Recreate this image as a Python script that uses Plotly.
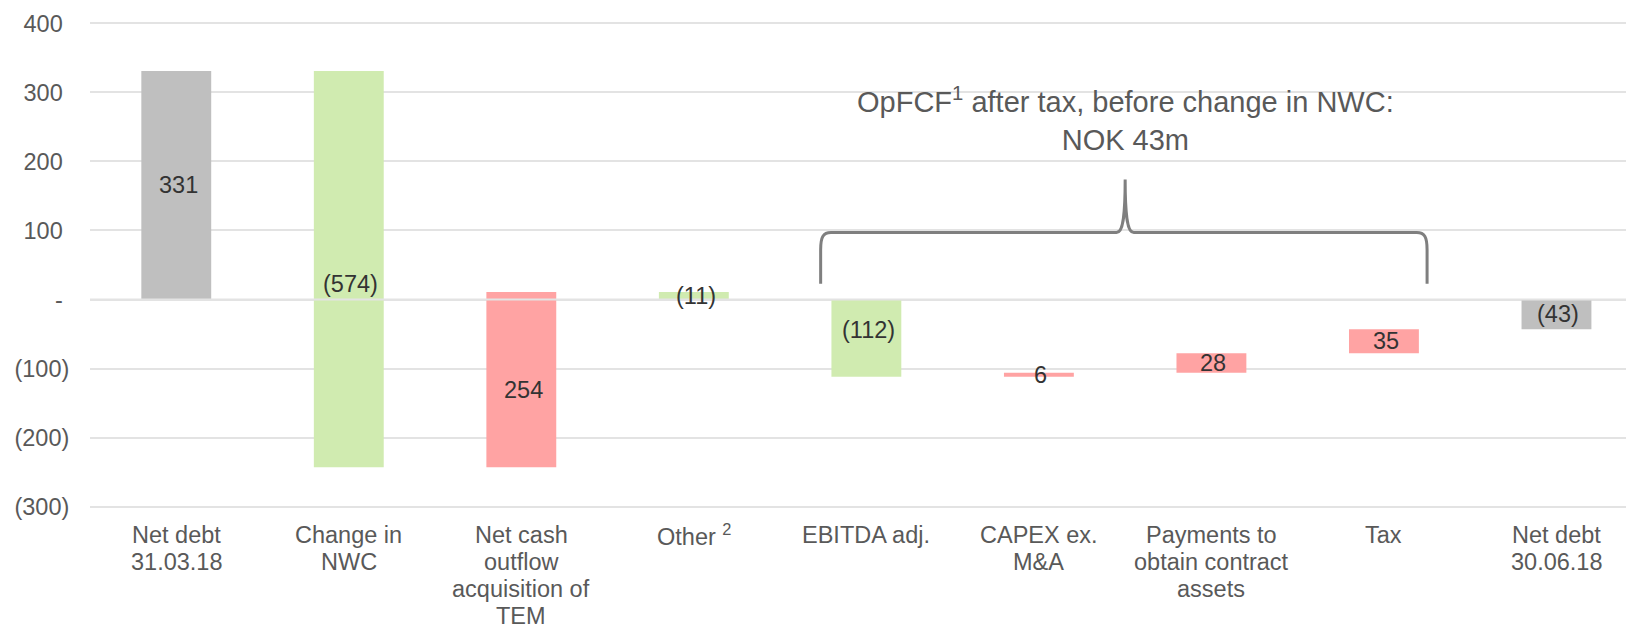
import plotly.graph_objects as go

# ---- data ----
categories = [
    "Net debt<br>31.03.18",
    "Change in<br>NWC",
    "Net cash<br>outflow<br>acquisition of<br>TEM",
    "Other <sup>2</sup>",
    "EBITDA adj.",
    "CAPEX ex.<br>M&A",
    "Payments to<br>obtain contract<br>assets",
    "Tax",
    "Net debt<br>30.06.18",
]
measures = ["absolute", "relative", "relative", "relative", "relative",
            "relative", "relative", "relative", "total"]
values = [331, -574, 254, -11, -112, 6, 28, 35, 0]
bar_labels = ["331", "(574)", "254", "(11)", "(112)", "6", "28", "35", "(43)"]

y_tickvals = [-300, -200, -100, 0, 100, 200, 300, 400]
y_ticktext = ["(300)", "(200)", "(100)", "-\u00a0", "100\u00a0", "200\u00a0", "300\u00a0", "400\u00a0"]

annotation_text = "OpFCF<sup>1</sup> after tax, before change in NWC:<br>NOK 43m"
bracket_first, bracket_last = 4, 7

# ---- styles ----
GREY = "#BFBFBF"
GREEN = "#D0EBB0"
RED = "#FFA3A3"
TXT = "#595959"
LBL = "#333333"
FONT = "Liberation Sans, Arial, sans-serif"
FS = 23.5
LINE_H = 27.0      # px between category label lines
FIRST_LINE = 28.5  # px below axis (-300 gridline) for first line centre

# label nudges (pixels) replicating manual label placement
label_yshift = {1: -15, 2: -10, 4: 8}

x = list(range(len(categories)))

fig = go.Figure()
fig.add_trace(go.Waterfall(
    x=x, y=values, measure=measures,
    width=0.405,
    increasing=dict(marker=dict(color=RED)),
    decreasing=dict(marker=dict(color=GREEN)),
    totals=dict(marker=dict(color=GREY)),
    connector=dict(visible=False),
    textposition="none",
    hoverinfo="skip",
))

# compute bar extents for label placement
running = 0
mids = []
for m, v in zip(measures, values):
    if m == "absolute":
        lo, hi = 0, v
        running = v
    elif m == "total":
        lo, hi = 0, running
    else:
        lo, hi = running, running + v
        running += v
    mids.append((lo + hi) / 2)

for i, (mid, t) in enumerate(zip(mids, bar_labels)):
    fig.add_annotation(x=i, y=mid, text=t, showarrow=False, xshift=2,
                       yshift=label_yshift.get(i, 0),
                       font=dict(family=FONT, size=FS, color=LBL))

# category labels (one annotation per line for tighter line spacing)
y_bottom = min(y_tickvals)
for i, cat in enumerate(categories):
    for k, line in enumerate(cat.split("<br>")):
        fig.add_annotation(x=i, xref="x", y=y_bottom, yref="y", yanchor="middle",
                           yshift=-(FIRST_LINE + k * LINE_H), text=line,
                           showarrow=False,
                           font=dict(family=FONT, size=FS, color=TXT))

# zero line above bars
fig.add_shape(type="line", xref="paper", yref="y", x0=0, x1=1, y0=0, y1=0,
              line=dict(color="#E3E3E3", width=2), layer="above")

# curly bracket
x0 = bracket_first - 0.265
x1 = bracket_last + 0.25
xm = (bracket_first + bracket_last) / 2
yb, yh, yp = 23, 97, 174
dx, dxm = 0.06, 0.05
path = (f"M {x0},{yb} L {x0},{yh-25} C {x0},{yh-6} {x0+0.015},{yh} {x0+dx},{yh} "
        f"L {xm-dxm},{yh} C {xm-dxm*0.3},{yh} {xm},{yh+20} {xm},{yp} "
        f"C {xm},{yh+20} {xm+dxm*0.3},{yh} {xm+dxm},{yh} "
        f"L {x1-dx},{yh} C {x1-0.015},{yh} {x1},{yh-6} {x1},{yh-25} L {x1},{yb}")
fig.add_shape(type="path", path=path, xref="x", yref="y",
              line=dict(color="#7F7F7F", width=3), layer="above")

fig.add_annotation(x=xm, y=262, text=annotation_text, showarrow=False,
                   font=dict(family=FONT, size=29, color=TXT))

fig.update_layout(
    width=1626, height=628,
    margin=dict(l=90, r=0, t=20, b=118),
    paper_bgcolor="white", plot_bgcolor="white",
    showlegend=False,
    font=dict(family=FONT, size=FS, color=TXT),
)
fig.update_xaxes(
    range=[-0.5, 8.403], tickvals=x, showticklabels=False,
    showgrid=False, zeroline=False, showline=False, automargin=False,
)
fig.update_yaxes(
    range=[-305, 405], tickvals=y_tickvals, ticktext=y_ticktext,
    showgrid=True, gridcolor="#E3E3E3", gridwidth=2,
    zeroline=False, showline=False, automargin=False,
    ticks="outside", ticklen=15, tickcolor="rgba(0,0,0,0)",
    tickfont=dict(family=FONT, size=FS, color=TXT),
)

fig.write_html("out.html", config={"displayModeBar": False},
               post_script="document.body.style.margin='0';document.body.style.overflow='hidden';")
